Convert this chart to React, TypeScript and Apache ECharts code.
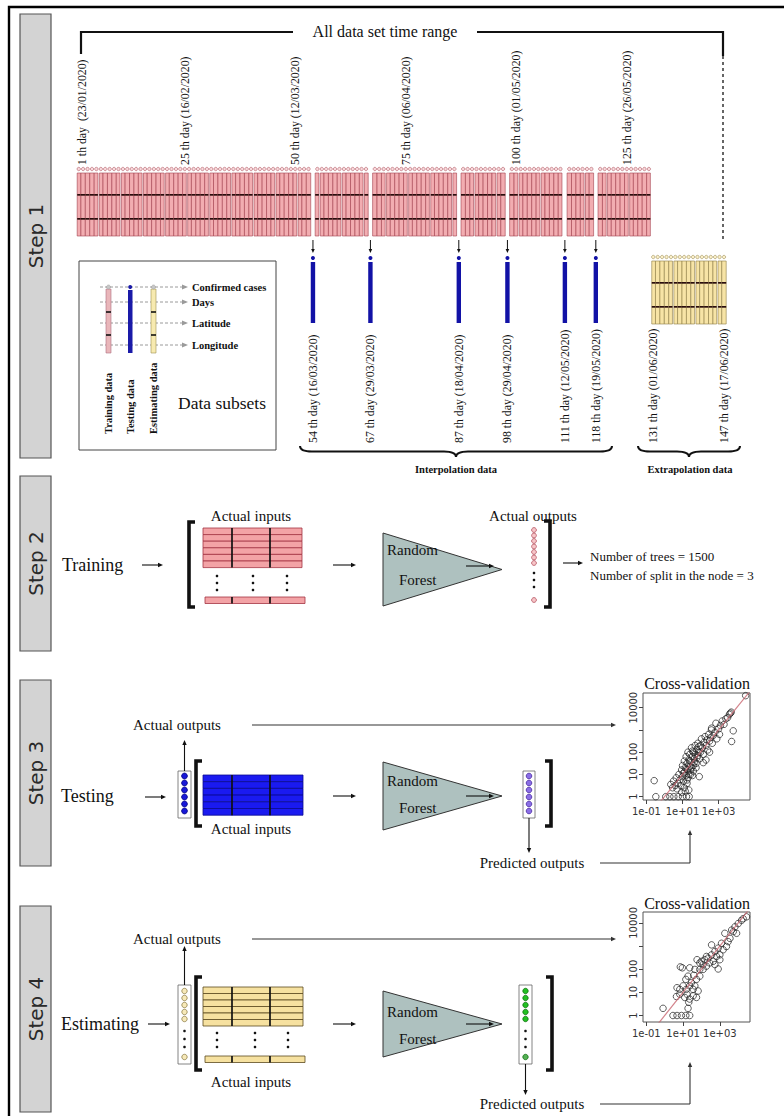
import React, { useEffect, useRef } from "react";
import * as echarts from "echarts";

const SERIF = "'Liberation Serif', 'Times New Roman', serif";
const SANS = "'DejaVu Sans', 'Liberation Sans', sans-serif";

// ---------- Step 1 data ----------
const trainingLastDay = 130;
const testingDays = [54, 67, 87, 98, 111, 118];
const testingDates = ["16/03/2020", "29/03/2020", "18/04/2020", "29/04/2020", "12/05/2020", "19/05/2020"];
const estimatingFirstDay = 131;
const estimatingLastDay = 147;
const labeledTrainDays = [1, 25, 50, 75, 100, 125];
const labeledTrainDates = ["23/01/2020", "16/02/2020", "12/03/2020", "06/04/2020", "01/05/2020", "26/05/2020"];
const labeledEstDays = [131, 147];
const labeledEstDates = ["01/06/2020", "17/06/2020"];
const legendFeatures = ["Confirmed cases", "Days", "Latitude", "Longitude"];
const legendSubsets = ["Training data", "Testing data", "Estimating data"];

// ---------- Cross-validation data (log10 values) ----------
const cvXTicks = [-1, 1, 3];
const cvXLabels = ["1e-01", "1e+01", "1e+03"];
const cvYTicks = [0, 1, 2, 3, 4];
const cvYLabelValues = [0, 1, 2, 4];
const cvYLabels = ["1", "10", "100", "10000"];

const cv3Points: number[][] = [
  [-0.48, 0], [0.07, 0], [0.3, 0], [0.52, 0], [0.76, 0], [1.0, 0], [1.22, 0], [1.37, 0],
  [-0.57, 0.72],
  [0.35, 0.55], [0.45, 0.4], [0.5, 0.7], [0.6, 0.5], [0.65, 0.85], [0.7, 0.35], [0.75, 0.6], [0.8, 1.0],
  [0.85, 0.75], [0.9, 0.5], [0.95, 1.2], [1.0, 0.9], [1.0, 1.4], [1.05, 0.7], [1.1, 1.1], [1.1, 1.6],
  [1.15, 1.3], [1.2, 0.95], [1.2, 1.8], [1.25, 1.5], [1.3, 1.2], [1.3, 2.0], [1.35, 1.65], [1.4, 1.35],
  [1.4, 1.9], [1.45, 1.0], [1.5, 1.55], [1.5, 2.2], [1.55, 1.8], [1.6, 1.4], [1.6, 2.0], [1.65, 1.7],
  [1.7, 2.3], [1.7, 1.9], [1.75, 1.5], [1.8, 2.1], [1.8, 1.75], [1.85, 2.4], [1.9, 2.0], [1.95, 1.7],
  [2.0, 2.3], [2.0, 2.0], [2.05, 2.6], [2.1, 2.2], [2.15, 1.9], [2.2, 2.45], [2.25, 2.7], [2.3, 2.3],
  [2.35, 2.55], [2.4, 2.1], [2.45, 2.8], [2.5, 2.5], [2.55, 2.65], [2.6, 3.0], [2.65, 2.4], [2.7, 2.75],
  [2.8, 2.9], [2.85, 3.3], [2.9, 2.6], [3.0, 3.05], [3.05, 2.8], [3.1, 3.2], [3.2, 3.4], [3.3, 3.25],
  [3.4, 3.5], [3.5, 3.55], [3.6, 3.7], [3.65, 3.75], [3.7, 3.8],
  [1.1, 0.4], [1.25, 0.6], [1.3, 0.85], [1.45, 1.2], [1.55, 0.95], [1.35, 0.3], [0.95, 0.2], [1.15, 0.25],
  [1.6, 1.15], [1.75, 1.3], [1.05, 1.05], [1.2, 1.25], [1.35, 1.0], [1.5, 1.3], [1.65, 1.55], [1.85, 1.85],
  [1.25, 0.75], [1.4, 1.6], [1.55, 2.05], [1.9, 2.25],
  [1.93, 0.9], [2.15, 1.53], [2.3, 1.65], [2.5, 2.0], [2.61, 3.08], [3.81, 2.96], [3.72, 2.48], [4.5, 4.54],
];

const cv4Points: number[][] = [
  [0.45, 0], [0.67, 0], [0.91, 0], [1.15, 0], [1.36, 0],
  [-0.09, 0.31], [1.27, 0.31], [1.31, 0.57],
  [0.64, 0.82], [0.82, 0.92], [1.0, 1.28], [1.18, 1.13], [1.09, 0.78], [1.36, 0.71], [1.55, 0.85],
  [1.73, 0.78], [1.82, 1.06], [1.64, 1.28], [1.45, 1.42], [0.96, 2.06], [0.85, 2.1], [1.36, 2.06],
  [1.58, 1.74], [1.73, 1.56], [1.91, 1.7], [1.91, 1.99], [2.09, 1.99], [2.27, 2.13], [1.76, 2.41],
  [2.45, 2.27], [2.64, 2.34], [2.36, 2.48], [2.82, 2.55], [3.0, 2.62], [2.91, 2.01], [2.73, 2.2],
  [3.18, 2.84], [3.09, 3.12], [3.36, 2.98], [3.45, 3.19], [3.27, 3.55], [3.55, 3.33], [3.64, 3.69],
  [3.73, 3.62], [3.91, 3.55], [3.82, 3.83], [4.0, 3.97], [4.18, 4.11], [4.45, 4.26], [4.27, 4.18],
  [2.55, 3.05], [3.0, 2.41],
  [1.91, 2.27], [2.09, 2.2], [2.18, 2.41], [2.0, 2.34], [2.27, 2.55], [2.55, 2.62], [2.73, 2.77],
  [2.91, 2.91], [1.64, 1.99], [1.27, 1.7], [1.15, 1.56], [1.36, 1.28], [0.82, 1.13], [0.67, 1.2],
  [1.22, 0.92], [1.55, 1.13],
];

// ---------- helpers ----------
type El = any;
const ln = (x1: number, y1: number, x2: number, y2: number, color = "#111", w = 1.2, dash?: number[]): El => ({
  type: "line",
  shape: { x1, y1, x2, y2 },
  style: { stroke: color, lineWidth: w, lineDash: dash },
});
const head = (x1: number, y1: number, x2: number, y2: number, color = "#111", len = 5, half = 2.2): El => {
  const dx = x2 - x1, dy = y2 - y1, L = Math.hypot(dx, dy), ux = dx / L, uy = dy / L;
  const bx = x2 - ux * len, by = y2 - uy * len;
  return {
    type: "polygon",
    shape: { points: [[x2, y2], [bx - uy * half, by + ux * half], [bx + uy * half, by - ux * half]] },
    style: { fill: color },
  };
};
const arrow = (x1: number, y1: number, x2: number, y2: number, color = "#111", w = 1.1, len = 5, half = 2.2): El[] => {
  const dx = x2 - x1, dy = y2 - y1, L = Math.hypot(dx, dy);
  const ex = x2 - (dx / L) * (len - 1), ey = y2 - (dy / L) * (len - 1);
  return [ln(x1, y1, ex, ey, color, w), head(x1, y1, x2, y2, color, len, half)];
};
const txt = (x: number, y: number, t: string, size: number, o: any = {}): El => ({
  type: "text",
  x,
  y,
  rotation: o.rot || 0,
  style: {
    text: t,
    fontSize: size,
    fontFamily: o.font || SERIF,
    fontWeight: o.bold ? "bold" : "normal",
    fill: o.color || "#111",
    align: o.align || "left",
    verticalAlign: "middle",
  },
});
const bracket = (x: number, top: number, bottom: number, side: "L" | "R"): El => {
  const d = side === "L" ? 6 : -6;
  return {
    type: "polyline",
    shape: { points: [[x + d, top], [x, top], [x, bottom], [x + d, bottom]] },
    style: { stroke: "#111", lineWidth: 3.6, fill: "none" },
  };
};
const table = (x: number, y: number, w: number, rows: number, rowH: number, fill: string, rowStroke: string, colXs: number[]): El[] => {
  const els: El[] = [];
  for (let i = 0; i < rows; i++) {
    els.push({ type: "rect", shape: { x, y: y + i * rowH, width: w, height: rowH }, style: { fill, stroke: rowStroke, lineWidth: 0.8 } });
  }
  colXs.forEach((cx) => els.push(ln(cx, y, cx, y + rows * rowH, "#111", 1.7)));
  return els;
};
const circles = (x: number, ys: number[], r: number, fill: string, stroke: string): El[] =>
  ys.map((cy) => ({ type: "circle", shape: { cx: x, cy, r }, style: { fill, stroke, lineWidth: 0.8 } }));
const dots = (xs: number[], ys: number[]): El[] => {
  const out: El[] = [];
  xs.forEach((x) => ys.forEach((y) => out.push({ type: "circle", shape: { cx: x, cy: y, r: 1.3 }, style: { fill: "#111" } })));
  return out;
};
const triangle = (x: number, top: number, bottom: number, apexX: number): El => ({
  type: "polygon",
  shape: { points: [[x, top], [x, bottom], [apexX, (top + bottom) / 2]] },
  style: { fill: "#aec1bf", stroke: "#333", lineWidth: 1 },
});
const brace = (x1: number, x2: number, y: number, h: number): El[] => {
  const m = (x1 + x2) / 2, q = h / 2, r = Math.min(12, (x2 - x1) / 8);
  const st = { stroke: "#111", lineWidth: 2, fill: "none" };
  return [
    { type: "bezierCurve", shape: { x1, y1: y, x2: x1 + r, y2: y + q, cpx1: x1, cpy1: y + q }, style: st },
    { type: "line", shape: { x1: x1 + r, y1: y + q, x2: m - r, y2: y + q }, style: st },
    { type: "bezierCurve", shape: { x1: m - r, y1: y + q, x2: m, y2: y + h, cpx1: m, cpy1: y + q }, style: st },
    { type: "bezierCurve", shape: { x1: m, y1: y + h, x2: m + r, y2: y + q, cpx1: m, cpy1: y + q }, style: st },
    { type: "line", shape: { x1: m + r, y1: y + q, x2: x2 - r, y2: y + q }, style: st },
    { type: "bezierCurve", shape: { x1: x2 - r, y1: y + q, x2, y2: y, cpx1: x2, cpy1: y + q }, style: st },
  ];
};
const stepBox = (top: number, bottom: number, label: string): El[] => [
  { type: "rect", shape: { x: 20, y: top, width: 31, height: bottom - top }, style: { fill: "#d3d3d3", stroke: "#555", lineWidth: 1.2 } },
  txt(36, (top + bottom) / 2, label, 20, { font: SANS, rot: Math.PI / 2, align: "center", color: "#2a2a2a" }),
];
const labelFor = (v: number, ticks: number[], labels: string[]) => {
  const i = ticks.findIndex((t) => Math.abs(t - v) < 1e-6);
  return i >= 0 ? labels[i] : "";
};

// ---------- Step 1 custom series ----------
const dayData: number[][] = [];
for (let d = 1; d <= estimatingLastDay; d++) {
  const kind = d > trainingLastDay ? (d >= estimatingFirstDay ? 2 : -1) : testingDays.includes(d) ? 1 : 0;
  if (kind >= 0) dayData.push([d, kind]);
}

function renderDay(_params: any, api: any) {
  const day = api.value(0);
  const kind = api.value(1);
  const xl0 = api.coord([day - 0.5, 0])[0];
  const xr0 = api.coord([day + 0.5, 0])[0];
  const cx = (xl0 + xr0) / 2;
  const xl = xl0 + ((day - 1) % 5 === 0 ? 0.7 : 0);
  const xr = xr0 - (day % 5 === 0 ? 0.7 : 0);
  const w = xr - xl;
  const children: El[] = [];
  if (kind === 0 || kind === 2) {
    const top = kind === 0 ? 173 : 261;
    const fill = kind === 0 ? "#f2adb1" : "#f7e4a6";
    const stroke = kind === 0 ? "#a3404d" : "#8d7c45";
    children.push({ type: "rect", shape: { x: xl, y: top, width: w, height: 63 }, style: { fill, stroke, lineWidth: 0.6 } });
    children.push({
      type: "circle",
      shape: { cx, cy: top - 4, r: 1.7 },
      style: { fill: kind === 0 ? "#f9d9dc" : "#fbf0c8", stroke, lineWidth: 0.5 },
    });
    [21, 45].forEach((off) =>
      children.push({ type: "rect", shape: { x: xl, y: top + off, width: w, height: 1.7 }, style: { fill: "#2a0d0d" } })
    );
    if (kind === 0) {
      const i = labeledTrainDays.indexOf(day);
      if (i >= 0) {
        const sep = day === 1 ? "  " : " ";
        children.push(txt(cx + (day === 1 ? 3 : 0), 165, `${day} th day${sep}(${labeledTrainDates[i]})`, 11.8, { rot: Math.PI / 2 }));
      }
    } else {
      const i = labeledEstDays.indexOf(day);
      if (i >= 0) children.push(txt(cx, 443, `${day} th day (${labeledEstDates[i]})`, 11.8, { rot: Math.PI / 2 }));
    }
  } else if (kind === 1) {
    children.push(...arrow(cx, 240, cx, 253, "#111", 1, 4, 1.8));
    children.push({ type: "rect", shape: { x: cx - 2.2, y: 262, width: 4.4, height: 61 }, style: { fill: "#1212a6" } });
    children.push({ type: "circle", shape: { cx, cy: 258, r: 2 }, style: { fill: "#1212a6" } });
    const i = testingDays.indexOf(day);
    children.push(txt(cx, 443, `${day} th day (${testingDates[i]})`, 11.8, { rot: Math.PI / 2 }));
  }
  return { type: "group", children };
}

// ---------- static diagram ----------
function buildGraphic(): El[] {
  const g: El[] = [];
  g.push({ type: "rect", shape: { x: 9, y: 7, width: 800, height: 1130 }, style: { fill: "none", stroke: "#000", lineWidth: 2.4 } });
  g.push(...stepBox(14, 458, "Step 1"));
  g.push(...stepBox(476, 651, "Step 2"));
  g.push(...stepBox(680, 866, "Step 3"));
  g.push(...stepBox(906, 1112, "Step 4"));

  // Step 1 time range annotation
  g.push(ln(80, 32, 293, 32, "#111", 2));
  g.push(ln(477, 32, 723, 32, "#111", 2));
  g.push(txt(385, 31, "All data set time range", 16, { align: "center" }));
  g.push(ln(81, 31, 81, 54, "#111", 2.2));
  g.push(ln(723, 31, 723, 56, "#111", 2.2));
  g.push(ln(723, 56, 723, 240, "#333", 1.5, [3, 3]));

  // legend box
  g.push({ type: "rect", shape: { x: 79, y: 261, width: 197, height: 189 }, style: { fill: "#fff", stroke: "#444", lineWidth: 1 } });
  const fy = [287, 302, 323, 345];
  fy.forEach((y, i) => {
    g.push(ln(100, y, 182, y, "#9a9a9a", 1, [3, 2]));
    g.push(head(172, y, 188, y, "#9a9a9a", 6, 2.5));
    g.push(txt(192, y, legendFeatures[i], 10.5, { bold: true }));
  });
  g.push({ type: "rect", shape: { x: 106, y: 289, width: 5, height: 64 }, style: { fill: "#e9b6ba", stroke: "#b07080", lineWidth: 0.6 } });
  g.push({ type: "circle", shape: { cx: 108.5, cy: 287, r: 2 }, style: { fill: "#c8c8c8", stroke: "#999", lineWidth: 0.5 } });
  g.push({ type: "rect", shape: { x: 128, y: 290, width: 4.5, height: 63 }, style: { fill: "#1a1aa8" } });
  g.push({ type: "circle", shape: { cx: 130.2, cy: 287, r: 2 }, style: { fill: "#1a1aa8" } });
  g.push({ type: "rect", shape: { x: 151, y: 289, width: 5, height: 64 }, style: { fill: "#f7eab0", stroke: "#a09050", lineWidth: 0.6 } });
  g.push({ type: "circle", shape: { cx: 153.5, cy: 287, r: 2 }, style: { fill: "#c8c8c8", stroke: "#999", lineWidth: 0.5 } });
  [312, 335].forEach((y) => {
    g.push({ type: "rect", shape: { x: 106, y: y - 0.8, width: 5, height: 1.6 }, style: { fill: "#111" } });
    g.push({ type: "rect", shape: { x: 151, y: y - 0.8, width: 5, height: 1.6 }, style: { fill: "#111" } });
  });
  [108.5, 130.2, 153.5].forEach((x, i) => g.push(txt(x, 434, legendSubsets[i], 10.5, { bold: true, rot: Math.PI / 2 })));
  g.push(txt(222, 403, "Data subsets", 17.5, { align: "center" }));

  // braces
  g.push(...brace(300, 612, 446, 11));
  g.push(...brace(638, 740, 446, 11));
  g.push(txt(456, 469, "Interpolation data", 10.5, { bold: true, align: "center" }));
  g.push(txt(690, 469, "Extrapolation data", 10.5, { bold: true, align: "center" }));

  // ---------- Step 2 ----------
  g.push(txt(62, 565, "Training", 18));
  g.push(...arrow(142, 565, 163, 565));
  g.push(bracket(189, 522, 607, "L"));
  g.push(txt(251, 516, "Actual inputs", 15, { align: "center" }));
  g.push(...table(203, 528, 99, 6, 6.6, "#f3a3a6", "#a33343", [232, 270]));
  g.push(...dots([217, 253, 287], [576, 583, 590]));
  g.push(...table(205, 597, 100, 1, 6.5, "#f3a3a6", "#a33343", [232, 270]));
  g.push(...arrow(333, 565, 356, 565));
  g.push(triangle(383, 533, 606, 502));
  g.push(txt(387, 550, "Random", 15));
  g.push(txt(399, 580, "Forest", 15));
  g.push(...arrow(466, 566, 494, 566));
  g.push(txt(533, 516, "Actual outputs", 15, { align: "center" }));
  g.push(...circles(534, [530, 535.5, 541, 546.5, 552, 557.5, 563], 2.4, "#f7c6c9", "#b4505e"));
  g.push(...dots([534], [573, 580, 587]));
  g.push(...circles(534, [600], 2.4, "#f7c6c9", "#b4505e"));
  g.push(bracket(550, 521, 607, "R"));
  g.push(...arrow(563, 563, 583, 563));
  g.push(txt(590, 556, "Number of trees = 1500", 13));
  g.push(txt(590, 575, "Number of split in the node = 3", 13));

  // ---------- Step 3 ----------
  g.push(txt(133, 725, "Actual outputs", 15));
  g.push(...arrow(252, 725, 616, 725, "#333"));
  g.push({ type: "rect", shape: { x: 178, y: 771, width: 13, height: 47 }, style: { fill: "#fff", stroke: "#666", lineWidth: 0.8 } });
  g.push(...circles(184.5, [776, 783, 790, 797, 804, 811], 2.9, "#1818d8", "#000080"));
  g.push(...arrow(184.5, 771, 184.5, 740));
  g.push(txt(61, 796, "Testing", 18));
  g.push(...arrow(145, 797, 166, 797));
  g.push(bracket(196, 761, 826, "L"));
  g.push(...table(203, 775, 100, 6, 6.7, "#1a1af0", "#0a0a90", [232, 270]));
  g.push(txt(251, 829, "Actual inputs", 15, { align: "center" }));
  g.push(...arrow(333, 796, 356, 796));
  g.push(triangle(383, 762, 830, 502));
  g.push(txt(387, 781, "Random", 15));
  g.push(txt(399, 808, "Forest", 15));
  g.push(...arrow(466, 796, 494, 796));
  g.push({ type: "rect", shape: { x: 523, y: 771, width: 12, height: 47 }, style: { fill: "#fff", stroke: "#666", lineWidth: 0.8 } });
  g.push(...circles(529, [776, 783, 790, 797, 804, 811], 2.8, "#8a6ee6", "#4a2aa0"));
  g.push(bracket(551, 761, 826, "R"));
  g.push(...arrow(529, 818, 529, 853));
  g.push(txt(532, 863, "Predicted outputs", 15, { align: "center" }));
  g.push(ln(600, 863, 690, 863, "#333", 1.1));
  g.push(...arrow(690, 863, 690, 830, "#333"));
  g.push(txt(697, 683, "Cross-validation", 16, { align: "center" }));

  // ---------- Step 4 ----------
  g.push(txt(133, 939, "Actual outputs", 15));
  g.push(...arrow(252, 939, 616, 939, "#333"));
  g.push({ type: "rect", shape: { x: 178, y: 985, width: 13, height: 79 }, style: { fill: "#fff", stroke: "#666", lineWidth: 0.8 } });
  g.push(...circles(184.5, [991, 998, 1005, 1012, 1019], 2.7, "#f7e9b8", "#8d7c45"));
  g.push(...dots([184.5], [1031, 1039, 1047]));
  g.push(...circles(184.5, [1057], 2.7, "#f7e9b8", "#8d7c45"));
  g.push(...arrow(184.5, 985, 184.5, 946));
  g.push(txt(61, 1024, "Estimating", 18));
  g.push(...arrow(148, 1024, 170, 1024));
  g.push(bracket(196, 977, 1070, "L"));
  g.push(...table(203, 987, 100, 6, 6.5, "#f6e1a0", "#5c4a20", [232, 270]));
  g.push(...dots([217, 255, 288], [1033, 1040, 1047]));
  g.push(...table(205, 1056, 100, 1, 6.5, "#f6e1a0", "#5c4a20", [232, 270]));
  g.push(txt(251, 1082, "Actual inputs", 15, { align: "center" }));
  g.push(...arrow(333, 1024, 356, 1024));
  g.push(triangle(383, 991, 1057, 502));
  g.push(txt(387, 1012, "Random", 15));
  g.push(txt(399, 1039, "Forest", 15));
  g.push(...arrow(466, 1024, 494, 1024));
  g.push({ type: "rect", shape: { x: 519, y: 985, width: 13, height: 79 }, style: { fill: "#fff", stroke: "#666", lineWidth: 0.8 } });
  g.push(...circles(525.5, [991, 998, 1005, 1012, 1019], 2.7, "#22c022", "#0a700a"));
  g.push(...dots([525.5], [1031, 1039, 1047]));
  g.push(...circles(525.5, [1057], 2.7, "#55b055", "#0a700a"));
  g.push(bracket(552, 977, 1070, "R"));
  g.push(...arrow(525.5, 1064, 525.5, 1095));
  g.push(txt(532, 1104, "Predicted outputs", 15, { align: "center" }));
  g.push(ln(600, 1104, 690, 1104, "#333", 1.1));
  g.push(...arrow(690, 1104, 690, 1062, "#333"));
  g.push(txt(697, 903, "Cross-validation", 16, { align: "center" }));
  return g;
}

function cvXAxis(gridIndex: number, min: number, max: number) {
  return {
    type: "value",
    gridIndex,
    min,
    max,
    axisLine: { show: false, onZero: false },
    splitLine: { show: false },
    axisTick: { show: true, customValues: cvXTicks, length: 4, lineStyle: { color: "#444", width: 1 } },
    axisLabel: {
      show: true,
      customValues: cvXTicks,
      formatter: (v: number) => labelFor(v, cvXTicks, cvXLabels),
      fontSize: 10,
      color: "#333",
      fontFamily: SANS,
      margin: 6,
    },
  };
}
function cvYAxis(gridIndex: number, min: number, max: number) {
  return {
    type: "value",
    gridIndex,
    min,
    max,
    axisLine: { show: false, onZero: false },
    splitLine: { show: false },
    axisTick: { show: true, customValues: cvYTicks, length: 4, lineStyle: { color: "#444", width: 1 } },
    axisLabel: {
      show: true,
      customValues: cvYLabelValues,
      formatter: (v: number) => labelFor(v, cvYLabelValues, cvYLabels),
      fontSize: 10,
      color: "#333",
      fontFamily: SANS,
      rotate: 90,
      margin: 5,
    },
  };
}

function cvSeries(axisIndex: number, pts: number[][], lo: number, hi: number) {
  return [
    {
      type: "scatter",
      xAxisIndex: axisIndex,
      yAxisIndex: axisIndex,
      data: pts,
      symbol: "circle",
      symbolSize: 6.5,
      itemStyle: { color: "rgba(0,0,0,0)", borderColor: "#222", borderWidth: 0.9 },
      silent: true,
      z: 3,
    },
    {
      type: "line",
      xAxisIndex: axisIndex,
      yAxisIndex: axisIndex,
      data: [[lo, lo], [hi, hi]],
      showSymbol: false,
      clip: true,
      lineStyle: { color: "rgba(200,100,110,0.8)", width: 1.2 },
      silent: true,
      z: 4,
    },
  ];
}

function buildOption() {
  return {
    animation: false,
    backgroundColor: "#fff",
    grid: [
      { left: 76.5, top: 100, width: 649.7, height: 300, show: false, outerBoundsMode: "none" },
      { left: 643, top: 693, width: 107, height: 107, show: true, borderColor: "#555", borderWidth: 1, backgroundColor: "transparent", outerBoundsMode: "none" },
      { left: 643, top: 912, width: 107, height: 110, show: true, borderColor: "#555", borderWidth: 1, backgroundColor: "transparent", outerBoundsMode: "none" },
    ],
    xAxis: [
      { type: "value", gridIndex: 0, min: 0.5, max: 147.5, show: false },
      cvXAxis(1, -1.19, 4.74),
      cvXAxis(2, -1.18, 4.64),
    ],
    yAxis: [
      { type: "value", gridIndex: 0, min: 0, max: 2, show: false },
      cvYAxis(1, -0.15, 4.66),
      cvYAxis(2, -0.28, 4.47),
    ],
    graphic: buildGraphic(),
    series: [
      {
        type: "custom",
        xAxisIndex: 0,
        yAxisIndex: 0,
        data: dayData,
        renderItem: renderDay,
        silent: true,
        z: 5,
      },
      ...cvSeries(1, cv3Points, -1.19, 4.74),
      ...cvSeries(2, cv4Points, -1.18, 4.64),
    ],
  };
}

export default function App() {
  const ref = useRef<HTMLDivElement>(null);
  useEffect(() => {
    if (!ref.current) return;
    const chart = echarts.init(ref.current, null, { renderer: "svg" });
    chart.setOption(buildOption() as any);
    return () => chart.dispose();
  }, []);
  return (
    <div
      ref={ref}
      style={{ position: "absolute", left: 0, top: 0, width: 784, height: 1116, background: "#fff" }}
    />
  );
}
